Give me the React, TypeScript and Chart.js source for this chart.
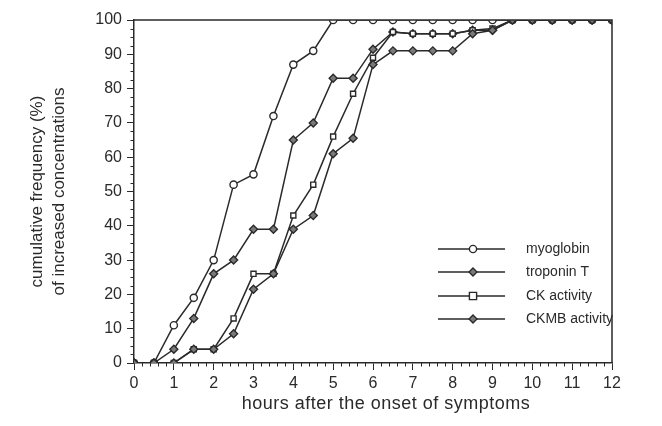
import React, { useEffect, useRef } from "react";
import { Chart, registerables } from "chart.js";

Chart.register(...registerables);

const hours = [0, 0.5, 1, 1.5, 2, 2.5, 3, 3.5, 4, 4.5, 5, 5.5, 6, 6.5, 7, 7.5, 8, 8.5, 9, 9.5, 10, 10.5, 11, 11.5, 12];
const myoglobin = [0, 0, 11, 19, 30, 52, 55, 72, 87, 91, 100, 100, 100, 100, 100, 100, 100, 100, 100, 100, 100, 100, 100, 100, 100];
const troponinT = [0, 0, 4, 13, 26, 30, 39, 39, 65, 70, 83, 83, 91.5, 96.5, 96, 96, 96, 97, 97, 100, 100, 100, 100, 100, 100];
const ckActivity = [0, 0, 0, 4, 4, 13, 26, 26, 43, 52, 66, 78.5, 89, 96.5, 96, 96, 96, 97, 97.5, 100, 100, 100, 100, 100, 100];
const ckmbActivity = [0, 0, 0, 4, 4, 8.5, 21.5, 26, 39, 43, 61, 65.5, 87, 91, 91, 91, 91, 96, 97, 100, 100, 100, 100, 100, 100];
const seriesNames = ["myoglobin", "troponin T", "CK activity", "CKMB activity"];
const xTickLabels = ["0", "1", "2", "3", "4", "5", "6", "7", "8", "9", "10", "11", "12"];
const xTitle = "hours after the onset of symptoms";
const yTitle = ["cumulative frequency (%)", "of increased concentrations"];

const INK = "#2a2a2a";
const FONT = "'Liberation Sans', Arial, Helvetica, sans-serif";

const styles = [
  { pointStyle: "circle", bg: "#ffffff", r: 3.6 },
  { pointStyle: "rectRot", bg: "#7a7a7a", r: 4 },
  { pointStyle: "rect", bg: "#ffffff", r: 3.6 },
  { pointStyle: "rectRot", bg: "#7a7a7a", r: 4 },
];

function drawMarker(ctx: CanvasRenderingContext2D, style: string, x: number, y: number, r: number, bg: string) {
  ctx.save();
  ctx.fillStyle = bg;
  ctx.strokeStyle = INK;
  ctx.lineWidth = 1.4;
  ctx.beginPath();
  if (style === "circle") {
    ctx.arc(x, y, r, 0, Math.PI * 2);
  } else if (style === "rect") {
    ctx.rect(x - r, y - r, 2 * r, 2 * r);
  } else {
    ctx.moveTo(x, y - r);
    ctx.lineTo(x + r, y);
    ctx.lineTo(x, y + r);
    ctx.lineTo(x - r, y);
    ctx.closePath();
  }
  ctx.fill();
  ctx.stroke();
  ctx.restore();
}

const decorPlugin = {
  id: "decor",
  beforeDraw(chart: any) {
    const ctx = chart.ctx;
    ctx.save();
    ctx.fillStyle = "#ffffff";
    ctx.fillRect(0, 0, chart.width, chart.height);
    ctx.restore();
  },
  afterDraw(chart: any) {
    const ctx: CanvasRenderingContext2D = chart.ctx;
    const { left, right, top, bottom } = chart.chartArea;
    const xs = chart.scales.x;
    const ys = chart.scales.y;
    ctx.save();
    ctx.strokeStyle = INK;
    ctx.lineWidth = 1.5;
    // box top & right
    ctx.beginPath();
    ctx.moveTo(left, top);
    ctx.lineTo(right, top);
    ctx.lineTo(right, bottom);
    ctx.stroke();
    // minor ticks
    ctx.lineWidth = 1;
    ctx.beginPath();
    for (let i = 0; i <= 60; i++) {
      if (i % 5 === 0) continue;
      const px = Math.round(xs.getPixelForValue(i * 0.2)) + 0.5;
      ctx.moveTo(px, bottom);
      ctx.lineTo(px, bottom + 3.5);
    }
    for (let i = 0; i <= 40; i++) {
      if (i % 4 === 0) continue;
      const py = Math.round(ys.getPixelForValue(i * 2.5)) + 0.5;
      ctx.moveTo(left, py);
      ctx.lineTo(left - 3.5, py);
    }
    ctx.stroke();
    // x axis title
    ctx.fillStyle = INK;
    ctx.font = `18px ${FONT}`;
    (ctx as any).letterSpacing = "0.5px";
    ctx.textAlign = "center";
    ctx.textBaseline = "middle";
    ctx.fillText(xTitle, (left + right) / 2 + 13, 404);
    (ctx as any).letterSpacing = "0px";
    // legend
    const rows = [249, 272, 296, 319];
    ctx.font = `14px ${FONT}`;
    ctx.textAlign = "left";
    ctx.textBaseline = "middle";
    seriesNames.forEach((name, i) => {
      const y = rows[i];
      ctx.strokeStyle = INK;
      ctx.lineWidth = 1.5;
      ctx.beginPath();
      ctx.moveTo(438, y);
      ctx.lineTo(505, y);
      ctx.stroke();
      drawMarker(ctx, styles[i].pointStyle, 473, y, styles[i].r, styles[i].bg);
      ctx.fillStyle = INK;
      ctx.fillText(name, 526, y);
    });
    ctx.restore();
  },
};

export default function App() {
  const ref = useRef<HTMLCanvasElement | null>(null);
  useEffect(() => {
    document.body.style.margin = "0";
    const canvas = ref.current;
    if (!canvas) return;
    const seriesData = [myoglobin, troponinT, ckActivity, ckmbActivity];
    const chart = new Chart(canvas, {
      type: "line",
      data: {
        datasets: seriesData.map((vals, i) => ({
          label: seriesNames[i],
          data: hours.map((h, j) => ({ x: h, y: vals[j] })),
          borderColor: INK,
          borderWidth: 1.5,
          pointStyle: styles[i].pointStyle as any,
          pointRadius: styles[i].r,
          pointBackgroundColor: styles[i].bg,
          pointBorderColor: INK,
          pointBorderWidth: 1.4,
          tension: 0,
          fill: false,
          order: 4 - i,
        })),
      },
      options: {
        animation: false,
        responsive: false,
        events: [],
        layout: { padding: { left: 0, right: 50, top: 20, bottom: 0 } },
        plugins: { legend: { display: false }, tooltip: { enabled: false } },
        scales: {
          x: {
            type: "linear",
            min: 0,
            max: 12,
            afterFit: (s: any) => {
              s.height = 63;
            },
            border: { display: true, color: INK, width: 1.5 },
            grid: { display: true, drawOnChartArea: false, drawTicks: true, tickLength: 7, color: INK, lineWidth: 1 },
            ticks: {
              stepSize: 1,
              color: INK,
              padding: 4,
              font: { family: FONT, size: 16 },
              callback: (v: any) => xTickLabels[Number(v)] ?? "",
            },
            title: { display: false },
          },
          y: {
            type: "linear",
            min: 0,
            max: 100,
            afterFit: (s: any) => {
              s.width = 134;
            },
            border: { display: true, color: INK, width: 1.5 },
            grid: { display: true, drawOnChartArea: false, drawTicks: true, tickLength: 7, color: INK, lineWidth: 1 },
            ticks: {
              stepSize: 10,
              color: INK,
              padding: 5,
              font: { family: FONT, size: 16 },
            },
            title: {
              display: true,
              text: yTitle,
              color: INK,
              font: { family: FONT, size: 17, lineHeight: 1.25 },
              padding: { top: 27, bottom: 0 },
            },
          },
        },
      },
      plugins: [decorPlugin],
    });
    return () => chart.destroy();
  }, []);
  return (
    <div style={{ position: "fixed", left: 0, top: 0, width: 662, height: 426 }}>
      <canvas ref={ref} width={662} height={426} style={{ display: "block", width: 662, height: 426 }} />
    </div>
  );
}
